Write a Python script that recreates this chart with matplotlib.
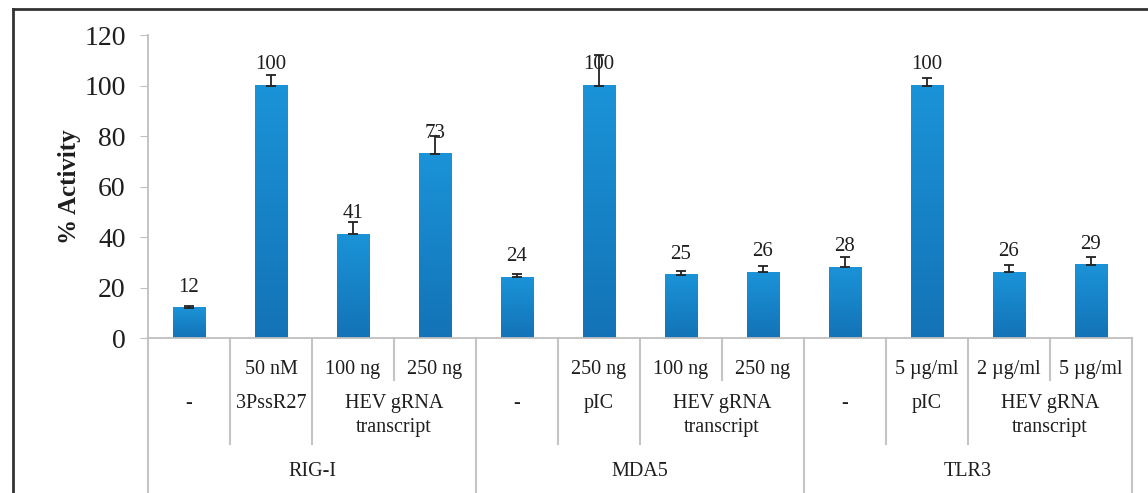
import matplotlib
matplotlib.use("Agg")
import matplotlib.pyplot as plt
import numpy as np
from matplotlib.colors import LinearSegmentedColormap

plt.rcParams['font.family'] = ['Liberation Serif', 'DejaVu Serif']

# data
values = [12, 100, 41, 73, 24, 100, 25, 26, 28, 100, 26, 29]
errors = [0.6, 4, 5, 7, 1.5, 12, 1.5, 2.5, 4, 3, 3, 3]
doses = ["", "50 nM", "100 ng", "250 ng", "", "250 ng", "100 ng", "250 ng",
         "", "5 µg/ml", "2 µg/ml", "5 µg/ml"]
# (label, first index, last index)
treatments = [("-", 0, 0), ("3PssR27", 1, 1), ("HEV gRNA\ntranscript", 2, 3),
              ("-", 4, 4), ("pIC", 5, 5), ("HEV gRNA\ntranscript", 6, 7),
              ("-", 8, 8), ("pIC", 9, 9), ("HEV gRNA\ntranscript", 10, 11)]
receptors = [("RIG-I", 0, 3), ("MDA5", 4, 7), ("TLR3", 8, 11)]
yticks = [0, 20, 40, 60, 80, 100, 120]

fig = plt.figure(figsize=(11.48, 4.93), dpi=100)
ax = fig.add_axes([0.1289, 0.3144, 0.8571, 0.6146])

x = np.arange(len(values))
bw = 0.40
grad_cmap = LinearSegmentedColormap.from_list("g", ["#1373b6", "#1b93d8"])
grad = np.linspace(0, 1, 256).reshape(-1, 1)
txt = "#1e1e1e"

for xi, v, e in zip(x, values, errors):
    ax.imshow(grad, cmap=grad_cmap, origin="lower", aspect="auto",
              extent=(xi - bw / 2, xi + bw / 2, 0, v), zorder=2)
    ax.errorbar(xi, v, yerr=[[0], [e]], fmt="none", ecolor="#222222",
                elinewidth=1.3, capsize=3.5, capthick=1.3, zorder=3)
    ax.annotate(str(v), (xi, v), xytext=(0, 8), textcoords="offset points",
                ha="center", va="bottom", fontsize=15, color=txt)

ax.set_xlim(-0.5, len(values) - 0.5)
ax.set_ylim(0, 120)
ax.set_yticks(yticks)
ax.tick_params(axis="y", labelsize=20, length=6, color="#bfbfbf",
               labelcolor=txt, pad=10)
ax.set_xticks([])
for s in ["top", "right"]:
    ax.spines[s].set_visible(False)
ax.spines["left"].set_color("#bfbfbf")
ax.spines["bottom"].set_color("#bfbfbf")
ax.spines["left"].set_linewidth(1.3)
ax.spines["bottom"].set_linewidth(1.3)
ax.set_ylabel("% Activity", fontsize=18, fontweight="bold", labelpad=2,
              color=txt)

tr = ax.get_xaxis_transform()
sep = dict(color="#c4c4c4", lw=1.5, clip_on=False, transform=tr)

# dose row
for i, d in enumerate(doses):
    if d:
        ax.text(i, -0.105, d, ha="center", va="center", fontsize=14.5,
                color=txt, transform=tr)
# boundaries between doses within a treatment
for lab, a, b in treatments:
    for k in range(a, b):
        ax.plot([k + 0.5, k + 0.5], [0, -0.14], **sep)
# treatment row
for lab, a, b in treatments:
    ax.text((a + b) / 2, -0.185, lab, ha="center", va="top", fontsize=14.5,
            color=txt, transform=tr, linespacing=1.35)
for lab, a, b in treatments:
    if not any(b == rb for _, _, rb in receptors):
        ax.plot([b + 0.5, b + 0.5], [0, -0.35], **sep)
# receptor row
for lab, a, b in receptors:
    ax.text((a + b) / 2, -0.44, lab, ha="center", va="center", fontsize=14.5,
            color=txt, transform=tr)
ax.plot([-0.5, -0.5], [0, -0.52], **sep)
for lab, a, b in receptors:
    ax.plot([b + 0.5, b + 0.5], [0, -0.52], **sep)

# outer frame (left and top)
fig.add_artist(plt.Line2D([0.0113, 0.0113], [0, 0.9817], color="#333333", lw=2))
fig.add_artist(plt.Line2D([0.0113, 1.0], [0.9817, 0.9817], color="#333333", lw=2))

fig.savefig("out.png", dpi=100)
